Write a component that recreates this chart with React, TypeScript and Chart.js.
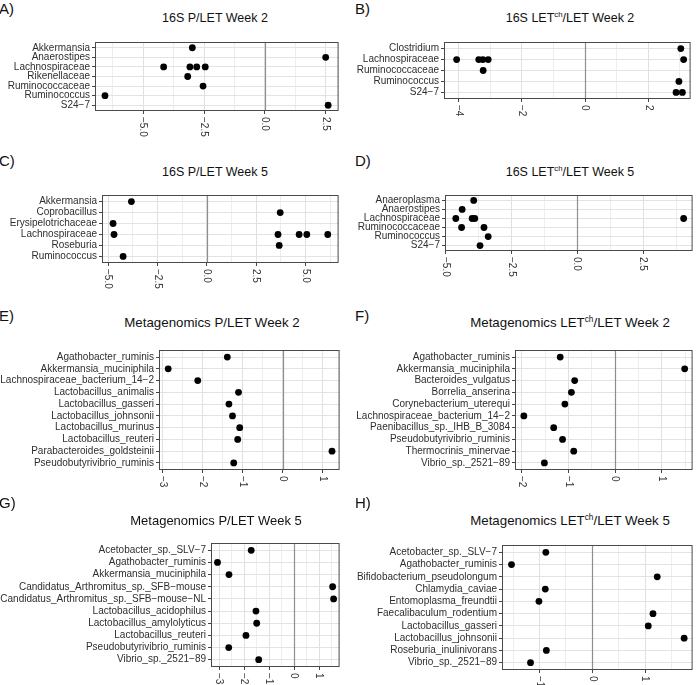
import React, { useEffect, useRef } from 'react';
import { Chart, registerables } from 'chart.js';
Chart.register(...registerables);

const FONT = "'Liberation Sans', Arial, Helvetica, sans-serif";

type Pt = [string, number];

// ---------- A) 16S P/LET Week 2 ----------
const A_CATS = ['Akkermansia', 'Anaerostipes', 'Lachnospiraceae', 'Rikenellaceae', 'Ruminococcaceae', 'Ruminococcus', 'S24\u22127'];
const A_POINTS: Pt[] = [
  ['Akkermansia', -2.98], ['Anaerostipes', 2.5],
  ['Lachnospiraceae', -4.16], ['Lachnospiraceae', -3.08], ['Lachnospiraceae', -2.8], ['Lachnospiraceae', -2.45],
  ['Rikenellaceae', -3.17], ['Ruminococcaceae', -2.54], ['Ruminococcus', -6.57], ['S24\u22127', 2.6],
];
const A_TICKS = [-5, -2.5, 0, 2.5];

// ---------- B) 16S LETch/LET Week 2 ----------
const B_CATS = ['Clostridium', 'Lachnospiraceae', 'Ruminococcaceae', 'Ruminococcus', 'S24\u22127'];
const B_POINTS: Pt[] = [
  ['Clostridium', 3.03],
  ['Lachnospiraceae', -4.07], ['Lachnospiraceae', -3.37], ['Lachnospiraceae', -3.24], ['Lachnospiraceae', -3.07], ['Lachnospiraceae', 3.12],
  ['Ruminococcaceae', -3.23], ['Ruminococcus', 2.97], ['S24\u22127', 2.88], ['S24\u22127', 3.08],
];
const B_TICKS = [-4, -2, 0, 2];

// ---------- C) 16S P/LET Week 5 ----------
const C_CATS = ['Akkermansia', 'Coprobacillus', 'Erysipelotrichaceae', 'Lachnospiraceae', 'Roseburia', 'Ruminococcus'];
const C_POINTS: Pt[] = [
  ['Akkermansia', -3.82], ['Coprobacillus', 3.72], ['Erysipelotrichaceae', -4.75],
  ['Lachnospiraceae', -4.7], ['Lachnospiraceae', 3.61], ['Lachnospiraceae', 4.68], ['Lachnospiraceae', 5.07], ['Lachnospiraceae', 6.13],
  ['Roseburia', 3.67], ['Ruminococcus', -4.24],
];
const C_TICKS = [-5, -2.5, 0, 2.5, 5];

// ---------- D) 16S LETch/LET Week 5 ----------
const D_CATS = ['Anaeroplasma', 'Anaerostipes', 'Lachnospiraceae', 'Ruminococcaceae', 'Ruminococcus', 'S24\u22127'];
const D_POINTS: Pt[] = [
  ['Anaeroplasma', -3.93], ['Anaerostipes', -4.37],
  ['Lachnospiraceae', -4.61], ['Lachnospiraceae', -3.99], ['Lachnospiraceae', -3.89], ['Lachnospiraceae', 4.04],
  ['Ruminococcaceae', -4.39], ['Ruminococcaceae', -3.54], ['Ruminococcus', -3.38], ['S24\u22127', -3.69],
];
const D_TICKS = [-5, -2.5, 0, 2.5];

// ---------- E) Metagenomics P/LET Week 2 ----------
const E_CATS = ['Agathobacter_ruminis', 'Akkermansia_muciniphila', 'Lachnospiraceae_bacterium_14\u22122', 'Lactobacillus_animalis', 'Lactobacillus_gasseri', 'Lactobacillus_johnsonii', 'Lactobacillus_murinus', 'Lactobacillus_reuteri', 'Parabacteroides_goldsteinii', 'Pseudobutyrivibrio_ruminis'];
const E_VALUES = [-1.39, -2.87, -2.13, -1.11, -1.35, -1.26, -1.08, -1.13, 1.23, -1.23];
const E_TICKS = [-3, -2, -1, 0, 1];

// ---------- F) Metagenomics LETch/LET Week 2 ----------
const F_CATS = ['Agathobacter_ruminis', 'Akkermansia_muciniphila', 'Bacteroides_vulgatus', 'Borrelia_anserina', 'Corynebacterium_uterequi', 'Lachnospiraceae_bacterium_14\u22122', 'Paenibacillus_sp._IHB_B_3084', 'Pseudobutyrivibrio_ruminis', 'Thermocrinis_minervae', 'Vibrio_sp._2521\u221289'];
const F_VALUES = [-1.18, 1.49, -0.87, -0.94, -1.08, -1.96, -1.32, -1.13, -0.89, -1.52];
const F_TICKS = [-2, -1, 0, 1];

// ---------- G) Metagenomics P/LET Week 5 ----------
const G_CATS = ['Acetobacter_sp._SLV\u22127', 'Agathobacter_ruminis', 'Akkermansia_muciniphila', 'Candidatus_Arthromitus_sp._SFB\u2212mouse', 'Candidatus_Arthromitus_sp._SFB\u2212mouse\u2212NL', 'Lactobacillus_acidophilus', 'Lactobacillus_amylolyticus', 'Lactobacillus_reuteri', 'Pseudobutyrivibrio_ruminis', 'Vibrio_sp._2521\u221289'];
const G_VALUES = [-1.72, -3.07, -2.61, 1.54, 1.58, -1.53, -1.5, -1.93, -2.62, -1.42];
const G_TICKS = [-3, -2, -1, 0, 1];

// ---------- H) Metagenomics LETch/LET Week 5 ----------
const H_CATS = ['Acetobacter_sp._SLV\u22127', 'Agathobacter_ruminis', 'Bifidobacterium_pseudolongum', 'Chlamydia_caviae', 'Entomoplasma_freundtii', 'Faecalibaculum_rodentium', 'Lactobacillus_gasseri', 'Lactobacillus_johnsonii', 'Roseburia_inulinivorans', 'Vibrio_sp._2521\u221289'];
const H_VALUES = [-0.88, -1.53, 1.23, -0.89, -1.01, 1.15, 1.06, 1.74, -0.87, -1.17];
const H_TICKS = [-1, 0, 1];

const pairs = (cats: string[], vals: number[]): Pt[] => cats.map((c, i) => [c, vals[i]] as Pt);

interface PanelSpec {
  letter: string;
  title: [string, string, string];
  titleX: number; titleY: number; titleSize: number;
  letterX: number; letterY: number;
  cats: string[]; points: Pt[]; ticks: number[]; decimals: number;
  xMin: number; xMax: number;
  col: number; L: number; R: number; T: number; B: number;
}

const PANELS: PanelSpec[] = [
  { letter: 'A)', title: ['16S P/LET Week 2', '', ''], titleX: 215, titleY: 18, titleSize: 12.5, letterX: -1, letterY: 8,
    cats: A_CATS, points: A_POINTS, ticks: A_TICKS, decimals: 1, xMin: -6.98, xMax: 3.03, col: 0, L: 95, R: 339, T: 42, B: 111 },
  { letter: 'B)', title: ['16S LET', 'ch', '/LET Week 2'], titleX: 570, titleY: 18, titleSize: 12.5, letterX: 355, letterY: 8,
    cats: B_CATS, points: B_POINTS, ticks: B_TICKS, decimals: 0, xMin: -4.47, xMax: 3.34, col: 348, L: 444, R: 691, T: 42, B: 99 },
  { letter: 'C)', title: ['16S P/LET Week 5', '', ''], titleX: 215, titleY: 171.5, titleSize: 12.5, letterX: -1, letterY: 160,
    cats: C_CATS, points: C_POINTS, ticks: C_TICKS, decimals: 1, xMin: -5.31, xMax: 6.68, col: 0, L: 102, R: 339, T: 195, B: 263 },
  { letter: 'D)', title: ['16S LET', 'ch', '/LET Week 5'], titleX: 570, titleY: 171.5, titleSize: 12.5, letterX: 355, letterY: 160,
    cats: D_CATS, points: D_POINTS, ticks: D_TICKS, decimals: 1, xMin: -5.02, xMax: 4.38, col: 348, L: 445, R: 693, T: 195, B: 251 },
  { letter: 'E)', title: ['Metagenomics P/LET Week 2', '', ''], titleX: 212, titleY: 323, titleSize: 13.3, letterX: -1, letterY: 315,
    cats: E_CATS, points: pairs(E_CATS, E_VALUES), ticks: E_TICKS, decimals: 0, xMin: -3.1, xMax: 1.42, col: 0, L: 159, R: 340, T: 350, B: 470 },
  { letter: 'F)', title: ['Metagenomics LET', 'ch', '/LET Week 2'], titleX: 570, titleY: 323, titleSize: 13.3, letterX: 355, letterY: 315,
    cats: F_CATS, points: pairs(F_CATS, F_VALUES), ticks: F_TICKS, decimals: 0, xMin: -2.15, xMax: 1.66, col: 348, L: 515, R: 694, T: 350, B: 470 },
  { letter: 'G)', title: ['Metagenomics P/LET Week 5', '', ''], titleX: 216, titleY: 520, titleSize: 13, letterX: -1, letterY: 502,
    cats: G_CATS, points: pairs(G_CATS, G_VALUES), ticks: G_TICKS, decimals: 0, xMin: -3.33, xMax: 1.82, col: 0, L: 211, R: 340, T: 543, B: 667 },
  { letter: 'H)', title: ['Metagenomics LET', 'ch', '/LET Week 5'], titleX: 570, titleY: 520.5, titleSize: 13.3, letterX: 355, letterY: 502,
    cats: H_CATS, points: pairs(H_CATS, H_VALUES), ticks: H_TICKS, decimals: 0, xMin: -1.71, xMax: 1.9, col: 348, L: 502, R: 694, T: 545, B: 670 },
];

const fmt = (v: number, d: number) => v.toFixed(d).replace('-', '\u2212');

function DotPanel({ spec }: { spec: PanelSpec }) {
  const ref = useRef<HTMLCanvasElement | null>(null);
  const padTop = 8;
  const axisH = 30;
  const padRight = Math.min(3, 696 - spec.R);
  const left = spec.col;
  const top = spec.T - padTop;
  const width = spec.R + padRight - spec.col;
  const height = spec.B - spec.T + padTop + axisH;

  useEffect(() => {
    const cvs = ref.current;
    if (!cvs) return;
    const majors = spec.ticks;
    const step = majors[1] - majors[0];
    const minors = [...majors.map((t) => t - step / 2), majors[majors.length - 1] + step / 2]
      .filter((v) => v > spec.xMin && v < spec.xMax);
    const allTicks = [...majors, ...minors].sort((a, b) => a - b);
    const isMajor = (v: number) => majors.some((m) => Math.abs(m - v) < 1e-9);

    const panelPlugin = {
      id: 'panelDeco',
      beforeDatasetsDraw(chart: any) {
        const { ctx, chartArea: a, scales } = chart;
        const px = Math.round(scales.x.getPixelForValue(0)) + 0.5;
        ctx.save();
        ctx.strokeStyle = '#8e8e8e';
        ctx.lineWidth = 1.2;
        ctx.beginPath();
        ctx.moveTo(px, a.top);
        ctx.lineTo(px, a.bottom);
        ctx.stroke();
        ctx.restore();
      },
      afterDraw(chart: any) {
        const { ctx, chartArea: a, scales } = chart;
        ctx.save();
        ctx.strokeStyle = '#4a4a4a';
        ctx.lineWidth = 1;
        ctx.strokeRect(a.left + 0.5, a.top + 0.5, a.right - a.left - 1, a.bottom - a.top - 1);
        ctx.fillStyle = '#333';
        ctx.font = `10px ${FONT}`;
        ctx.textAlign = 'left';
        ctx.textBaseline = 'middle';
        for (const v of majors) {
          const px = scales.x.getPixelForValue(v);
          ctx.save();
          ctx.translate(px, a.bottom + 6);
          ctx.rotate(Math.PI / 2);
          ctx.fillText(fmt(v, spec.decimals), 0, 0);
          ctx.restore();
        }
        ctx.restore();
      },
    };

    const chart = new Chart(cvs, {
      type: 'scatter',
      data: {
        datasets: [{
          data: spec.points.map(([c, v]) => ({ x: v, y: spec.cats.indexOf(c) })),
          backgroundColor: '#000',
          borderColor: '#000',
          borderWidth: 0,
          pointRadius: 3.4,
          pointHoverRadius: 3.4,
          clip: false as any,
        }],
      },
      options: {
        animation: false,
        responsive: false,
        events: [],
        layout: { padding: { top: padTop, right: padRight, left: 0, bottom: 0 } },
        plugins: { legend: { display: false }, tooltip: { enabled: false } },
        scales: {
          x: {
            type: 'linear',
            min: spec.xMin,
            max: spec.xMax,
            afterBuildTicks: (s: any) => { s.ticks = allTicks.map((v) => ({ value: v })); },
            afterFit: (s: any) => { s.height = axisH; },
            ticks: { display: false },
            grid: {
              color: (c: any) => (c.tick && isMajor(c.tick.value) ? '#e0e0e0' : '#ededed'),
              lineWidth: 1,
              drawTicks: true,
              tickLength: 3,
              tickColor: (c: any) => (c.tick && isMajor(c.tick.value) ? '#444' : 'rgba(0,0,0,0)'),
            },
            border: { display: false },
          },
          y: {
            type: 'linear',
            reverse: true,
            min: -0.6,
            max: spec.cats.length - 0.4,
            afterBuildTicks: (s: any) => { s.ticks = spec.cats.map((_, i) => ({ value: i })); },
            afterFit: (s: any) => { s.width = spec.L - spec.col; },
            ticks: {
              autoSkip: false,
              padding: 2,
              color: '#2e2e2e',
              font: { family: FONT, size: 10, lineHeight: 1 },
              callback: (v: any) => spec.cats[Math.round(Number(v))] ?? '',
            },
            grid: { color: '#e3e3e3', lineWidth: 1, drawTicks: true, tickLength: 3, tickColor: '#444' },
            border: { display: false },
          },
        },
      } as any,
      plugins: [panelPlugin],
    });
    return () => chart.destroy();
  }, [spec]);

  return (
    <canvas
      ref={ref}
      width={width}
      height={height}
      style={{ position: 'absolute', left, top, width, height }}
    />
  );
}

export default function App() {
  return (
    <div style={{ position: 'absolute', left: 0, top: 0, width: 696, height: 685, overflow: 'hidden', background: '#fff', fontFamily: FONT }}>
      {PANELS.map((p) => (
        <React.Fragment key={p.letter}>
          <div style={{ position: 'absolute', left: p.letterX, top: p.letterY, transform: 'translateY(-50%)', fontSize: 15, lineHeight: 1, color: '#111', whiteSpace: 'nowrap' }}>
            {p.letter}
          </div>
          <div style={{ position: 'absolute', left: p.titleX, top: p.titleY, transform: 'translate(-50%, -50%)', fontSize: p.titleSize, lineHeight: 1, color: '#111', whiteSpace: 'nowrap' }}>
            {p.title[0]}
            {p.title[1] ? <span style={{ fontSize: '0.62em', position: 'relative', top: '-0.6em' }}>{p.title[1]}</span> : null}
            {p.title[2]}
          </div>
          <DotPanel spec={p} />
        </React.Fragment>
      ))}
    </div>
  );
}
